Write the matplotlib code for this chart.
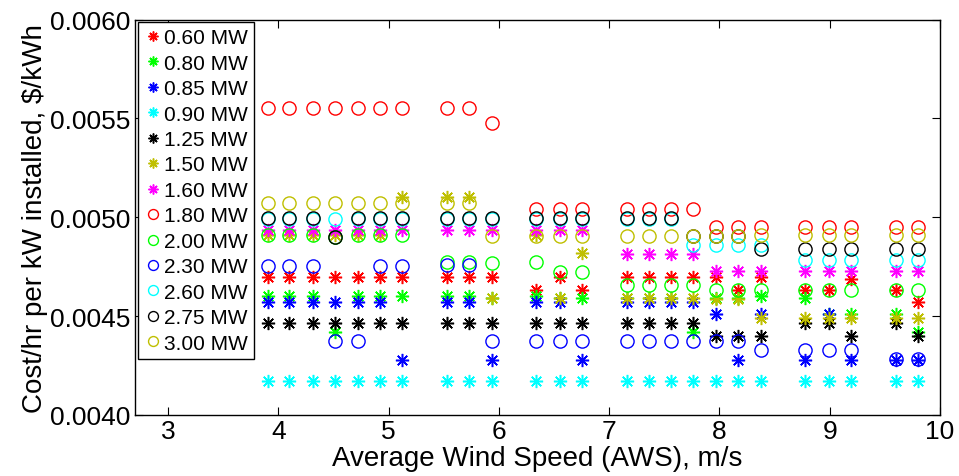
import matplotlib
matplotlib.use('Agg')
import matplotlib.pyplot as plt

plt.rcParams['font.family'] = ['Liberation Sans', 'DejaVu Sans']

# average wind speed of each site, m/s
aws = [3.91, 4.10, 4.31, 4.51, 4.72, 4.92, 5.12, 5.53, 5.73, 5.94, 6.34, 6.55, 6.75,
       7.16, 7.36, 7.56, 7.76, 7.97, 8.17, 8.38, 8.78, 8.99, 9.19, 9.60, 9.80]

# cost/hr per kW installed for each turbine rating
mw060 = [0.00470, 0.00470, 0.00470, 0.00470, 0.00470, 0.00470, 0.00470, 0.00470, 0.00470,
         0.00470, 0.00463, 0.00470, 0.00463, 0.00470, 0.00470, 0.00470, 0.00470, 0.00470,
         0.00463, 0.00470, 0.00463, 0.00463, 0.00469, 0.00463, 0.00457]
mw080 = [0.00460, 0.00460, 0.00460, 0.00442, 0.00460, 0.00460, 0.00460, 0.00460, 0.00460,
         0.00459, 0.00460, 0.00459, 0.00459, 0.00459, 0.00459, 0.00459, 0.00442, 0.00459,
         0.00459, 0.00460, 0.00459, 0.00451, 0.00451, 0.00451, 0.00442]
mw085 = [0.00457, 0.00457, 0.00457, 0.00457, 0.00457, 0.00457, 0.00428, 0.00457, 0.00457,
         0.00428, 0.00457, 0.00457, 0.00428, 0.00457, 0.00457, 0.00457, 0.00457, 0.00451,
         0.00428, 0.00451, 0.00428, 0.00451, 0.00428, 0.00428, 0.00428]
mw090 = [0.00417, 0.00417, 0.00417, 0.00417, 0.00417, 0.00417, 0.00417, 0.00417, 0.00417,
         0.00417, 0.00417, 0.00417, 0.00417, 0.00417, 0.00417, 0.00417, 0.00417, 0.00417,
         0.00417, 0.00417, 0.00417, 0.00417, 0.00417, 0.00417, 0.00417]
mw125 = [0.004464, 0.004464, 0.004464, 0.004464, 0.004464, 0.004464, 0.004464, 0.004464,
         0.004464, 0.004464, 0.004464, 0.004464, 0.004464, 0.004464, 0.004464, 0.004464,
         0.004464, 0.004397, 0.004397, 0.00440, 0.004464, 0.004464, 0.00440, 0.004464, 0.00440]
mw150 = [0.00491, 0.00491, 0.00491, 0.00491, 0.00491, 0.00491, 0.00510, 0.00510, 0.00510,
         0.00459, 0.00491, 0.00459, 0.00482, 0.00459, 0.00459, 0.00459, 0.00459, 0.004586,
         0.004586, 0.004488, 0.004488, 0.004488, 0.004488, 0.004488, 0.004488]
mw160 = [0.004935, 0.004935, 0.004935, 0.004935, 0.004935, 0.004935, 0.004935, 0.004935,
         0.004935, 0.004935, 0.004935, 0.004935, 0.004935, 0.004815, 0.004815, 0.004815,
         0.004815, 0.004726, 0.004726, 0.004726, 0.004726, 0.004726, 0.004726, 0.004726, 0.004726]
mw180 = [0.00555, 0.00555, 0.00555, 0.00555, 0.00555, 0.00555, 0.00555, 0.00555, 0.00555,
         0.005475, 0.00504, 0.00504, 0.00504, 0.00504, 0.00504, 0.00504, 0.00504, 0.00495,
         0.00495, 0.00495, 0.00495, 0.00495, 0.00495, 0.00495, 0.00495]
mw200 = [0.00491, 0.00491, 0.00491, 0.00490, 0.00491, 0.00491, 0.00491, 0.004775, 0.004775,
         0.004768, 0.004772, 0.004721, 0.004721, 0.004658, 0.004658, 0.004658, 0.004658,
         0.00463, 0.00463, 0.00463, 0.00463, 0.00463, 0.00463, 0.00463, 0.00463]
mw230 = [0.004754, 0.004754, 0.004754, 0.004375, 0.004375, 0.004754, 0.004754, 0.00476,
         0.00476, 0.004375, 0.004375, 0.004375, 0.004375, 0.004375, 0.004375, 0.004375,
         0.004375, 0.004372, 0.004372, 0.00433, 0.00433, 0.00433, 0.00433, 0.004282, 0.004282]
mw260 = [0.00499, 0.00499, 0.00499, 0.00499, 0.00499, 0.00499, 0.00499, 0.00499, 0.00499,
         0.00499, 0.00499, 0.00499, 0.00499, 0.00499, 0.00499, 0.00499, 0.004862, 0.004862,
         0.004862, 0.004862, 0.004783, 0.004783, 0.004783, 0.004783, 0.004783]
mw275 = [0.004994, 0.004994, 0.004994, 0.004901, 0.004994, 0.004994, 0.004994, 0.004994,
         0.004994, 0.004994, 0.004994, 0.004994, 0.004994, 0.004994, 0.004994, 0.004994,
         0.004906, 0.004906, 0.004906, 0.004837, 0.004837, 0.004837, 0.004837, 0.004837, 0.004837]
mw300 = [0.00507, 0.00507, 0.00507, 0.00507, 0.00507, 0.00507, 0.00507, 0.00507, 0.00507,
         0.004906, 0.004906, 0.004906, 0.004906, 0.004906, 0.004906, 0.004906, 0.004906,
         0.004906, 0.004906, 0.00491, 0.00491, 0.00491, 0.00491, 0.00491, 0.00491]

labels = ['0.60 MW', '0.80 MW', '0.85 MW', '0.90 MW', '1.25 MW', '1.50 MW', '1.60 MW',
          '1.80 MW', '2.00 MW', '2.30 MW', '2.60 MW', '2.75 MW', '3.00 MW']
series = [mw060, mw080, mw085, mw090, mw125, mw150, mw160,
          mw180, mw200, mw230, mw260, mw275, mw300]
colors = ['#ff0000', '#00ff00', '#0000ff', '#00ffff', '#000000', '#bfbf00', '#ff00ff',
          '#ff0000', '#00ff00', '#0000ff', '#00ffff', '#000000', '#bfbf00']
markers = ['*'] * 7 + ['o'] * 6

fig = plt.figure(figsize=(9.59, 4.77), dpi=100)
ax = fig.add_axes([0.1408, 0.1279, 0.8394, 0.8291])

for yv, lab, c, m in zip(series, labels, colors, markers):
    if m == '*':
        ax.plot(aws, yv, linestyle='none', marker=(8, 2, 0), ms=9.5, mew=1.1,
                color=c, label=lab)
    else:
        ax.plot(aws, yv, linestyle='none', marker='o', ms=9.5, mew=1.0,
                mfc='none', mec=c, label=lab)

ax.set_xlim(2.7, 10)
ax.set_ylim(0.0040, 0.0060)
ax.set_xticks([3, 4, 5, 6, 7, 8, 9, 10])
ax.set_yticks([0.0040, 0.0045, 0.0050, 0.0055, 0.0060])
ax.set_yticklabels(['%.4f' % v for v in [0.0040, 0.0045, 0.0050, 0.0055, 0.0060]])
ax.tick_params(direction='in', top=True, right=True, length=6, width=0.8,
               labelsize=19, pad=3)
for sp in ax.spines.values():
    sp.set_linewidth(1.0)

ax.set_xlabel('Average Wind Speed (AWS), m/s', fontsize=20, labelpad=1)
ax.set_ylabel(r'Cost/hr per kW installed, \$/kWh', fontsize=20, labelpad=2)

leg = ax.legend(loc='upper left', bbox_to_anchor=(0.004, 0.994), borderaxespad=0,
                numpoints=1, markerscale=0.75, fontsize=15, handlelength=0.8,
                handletextpad=0.15, labelspacing=0.31, borderpad=0.3,
                fancybox=False, framealpha=1, edgecolor='black')
leg.get_frame().set_linewidth(1.0)

fig.savefig('out.png', dpi=100)
